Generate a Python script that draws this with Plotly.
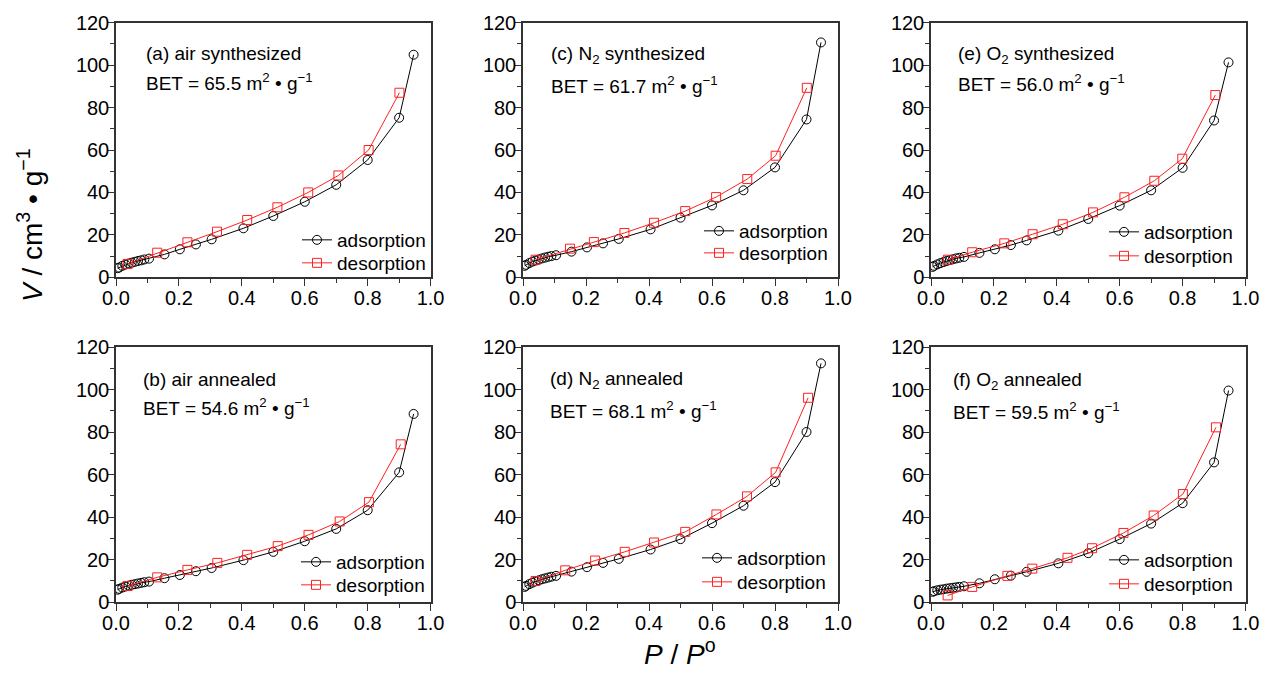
import plotly.graph_objects as go

# Relative pressure points (adsorption branch) and measured uptake for each sample
p_ads = [0.005, 0.01, 0.02, 0.03, 0.04, 0.05, 0.06, 0.07, 0.08, 0.09, 0.105,
         0.154, 0.203, 0.254, 0.304, 0.405, 0.50, 0.60, 0.70, 0.80, 0.90, 0.946]

v_ads_a = [4.3, 4.6, 5.4, 6.0, 6.5, 6.9, 7.3, 7.7, 8.0, 8.4, 8.8,
           10.8, 13.2, 15.5, 17.9, 23.1, 28.9, 35.6, 43.6, 55.3, 75.2, 104.9]
v_ads_b = [5.8, 6.2, 6.8, 7.3, 7.7, 8.1, 8.4, 8.7, 9.0, 9.3, 9.6,
           11.2, 12.7, 14.5, 16.0, 19.7, 23.6, 28.6, 34.4, 43.2, 61.0, 88.5]
v_ads_c = [5.4, 5.9, 6.7, 7.4, 7.9, 8.4, 8.9, 9.3, 9.7, 10.0, 10.4,
           12.1, 14.1, 16.0, 18.1, 22.6, 28.1, 33.9, 41.0, 51.8, 74.4, 110.7]
v_ads_d = [7.1, 7.6, 8.4, 9.1, 9.7, 10.2, 10.7, 11.1, 11.5, 11.9, 12.3,
           14.3, 16.4, 18.4, 20.3, 24.7, 29.6, 37.1, 45.3, 56.4, 80.0, 112.3]
v_ads_e = [4.9, 5.4, 6.1, 6.7, 7.2, 7.7, 8.1, 8.5, 8.9, 9.2, 9.6,
           11.5, 13.2, 15.2, 17.4, 22.0, 27.5, 33.8, 41.0, 51.6, 73.9, 101.3]
v_ads_f = [4.8, 5.1, 5.5, 5.8, 6.0, 6.3, 6.5, 6.7, 6.9, 7.1, 7.4,
           8.8, 10.7, 12.4, 14.2, 18.2, 23.0, 29.6, 36.9, 46.5, 65.7, 99.5]

# Desorption branch (relative pressure, uptake) for each sample
p_des_a = [0.901, 0.803, 0.707, 0.611, 0.513, 0.417, 0.321, 0.227, 0.131, 0.037]
v_des_a = [87.0, 60.0, 48.0, 40.0, 33.0, 27.0, 21.5, 16.5, 11.6, 6.3]
p_des_b = [0.905, 0.804, 0.711, 0.612, 0.514, 0.417, 0.322, 0.227, 0.131, 0.037]
v_des_b = [74.2, 47.0, 37.9, 31.6, 26.3, 22.2, 18.4, 15.1, 11.6, 7.5]
p_des_c = [0.901, 0.802, 0.712, 0.613, 0.515, 0.416, 0.322, 0.225, 0.149, 0.040]
v_des_c = [89.3, 57.3, 46.3, 37.8, 31.2, 25.7, 20.9, 16.6, 13.5, 8.3]
p_des_d = [0.905, 0.802, 0.711, 0.614, 0.515, 0.416, 0.323, 0.229, 0.134, 0.040]
v_des_d = [96.1, 61.0, 49.7, 41.2, 33.0, 28.0, 23.6, 19.5, 14.9, 9.9]
p_des_e = [0.904, 0.799, 0.710, 0.615, 0.515, 0.419, 0.323, 0.233, 0.131, 0.054]
v_des_e = [85.9, 55.9, 45.5, 37.7, 30.6, 25.0, 20.3, 16.0, 11.8, 8.3]
p_des_f = [0.906, 0.801, 0.708, 0.612, 0.512, 0.434, 0.322, 0.243, 0.131, 0.053]
v_des_f = [82.2, 50.8, 40.7, 32.5, 25.3, 20.8, 15.7, 12.3, 7.1, 3.1]

panel_titles = ["(a) air synthesized", "(b) air annealed",
                "(c) N<sub>2</sub> synthesized", "(d) N<sub>2</sub> annealed",
                "(e) O<sub>2</sub> synthesized", "(f) O<sub>2</sub> annealed"]
bet_values = ["65.5", "54.6", "61.7", "68.1", "56.0", "59.5"]
series_names = ["adsorption", "desorption"]

x_ticks = [0.0, 0.2, 0.4, 0.6, 0.8, 1.0]
y_ticks = [0, 20, 40, 60, 80, 100, 120]

ads_series = [v_ads_a, v_ads_b, v_ads_c, v_ads_d, v_ads_e, v_ads_f]
des_series = [(p_des_a, v_des_a), (p_des_b, v_des_b), (p_des_c, v_des_c),
              (p_des_d, v_des_d), (p_des_e, v_des_e), (p_des_f, v_des_f)]

FONT = "Arial, Liberation Sans, sans-serif"
W, H = 1263, 684
AXIS_COLOR = "#333333"
RED = "#ff2020"

# panel boxes in pixels: (left, right) columns and (top, bottom) rows
cols = [(116, 430.6), (523, 838), (931, 1245.5)]
rows = [(22.7, 277.3), (347, 602)]
# legend anchor (left, top of first row, top of second row) in pixels, per panel
legend_px = [(297, 221, 244), (296, 543, 566), (699, 212, 234),
             (697, 539, 563), (1104, 213, 237), (1104, 541, 565)]
# panel label placement in data units: x, title y, BET y
label_pos = [(0.088, 105.5, 92.2), (0.080, 104.5, 91.9), (0.084, 104.6, 90.6),
             (0.080, 104.5, 90.4), (0.080, 104.8, 91.4), (0.064, 104.2, 89.8)]

fig = go.Figure()
layout = dict(
    width=W, height=H,
    margin=dict(l=0, r=0, t=0, b=0, pad=0, autoexpand=False),
    paper_bgcolor="white", plot_bgcolor="white",
    font=dict(family=FONT, size=19, color="black"),
    showlegend=True,
    annotations=[],
)

for i in range(6):
    c, r = i // 2, i % 2
    n = "" if i == 0 else str(i + 1)
    xa, ya = "x" + n, "y" + n
    (x0, x1), (y0, y1) = cols[c], rows[r]
    axis_common = dict(
        showline=True, mirror=True, linecolor=AXIS_COLOR, linewidth=1.5,
        ticks="outside", ticklen=7, tickwidth=1.3, tickcolor=AXIS_COLOR,
        showgrid=False, zeroline=False, automargin=False,
        tickfont=dict(family=FONT, size=20, color="black"),
    )
    layout["xaxis" + n] = dict(
        axis_common, domain=[x0 / W, x1 / W], range=[0, 1],
        tickvals=x_ticks, ticktext=[f"{v:.1f}" for v in x_ticks],
        ticklabelstandoff=-5,
        minor=dict(ticks="outside", ticklen=4, tickwidth=1.2, tickcolor=AXIS_COLOR,
                   dtick=0.1, tick0=0, showgrid=False),
        anchor=ya,
    )
    layout["yaxis" + n] = dict(
        axis_common, domain=[1 - y1 / H, 1 - y0 / H], range=[0, 120],
        tickvals=y_ticks, ticklabelstandoff=-6,
        minor=dict(ticks="outside", ticklen=4, tickwidth=1.2, tickcolor=AXIS_COLOR,
                   dtick=10, tick0=0, showgrid=False),
        anchor=xa,
    )

    # one legend box per entry so each row sits where it should
    lx, ly1, ly2 = legend_px[i]
    leg_ids = []
    for k, ly in enumerate((ly1, ly2)):
        idx = 2 * i + k
        lid = "legend" if idx == 0 else "legend" + str(idx + 1)
        leg_ids.append(lid)
        layout[lid] = dict(
            x=lx / W, y=1 - ly / H, xanchor="left", yanchor="top",
            bgcolor="rgba(0,0,0,0)", borderwidth=0,
            font=dict(family=FONT, size=19, color="black"),
            itemwidth=30,
        )

    fig.add_trace(go.Scatter(
        x=p_ads, y=ads_series[i], xaxis=xa, yaxis=ya, mode="lines+markers",
        name=series_names[0], legend=leg_ids[0],
        line=dict(color="black", width=1),
        marker=dict(symbol="circle-open", size=9, color="black", line=dict(width=1)),
    ))
    pd_, vd_ = des_series[i]
    fig.add_trace(go.Scatter(
        x=pd_, y=vd_, xaxis=xa, yaxis=ya, mode="lines+markers",
        name=series_names[1], legend=leg_ids[1],
        line=dict(color=RED, width=1),
        marker=dict(symbol="square-open", size=9, color=RED, line=dict(width=1)),
    ))

    lxv, ty, by = label_pos[i]
    layout["annotations"].append(dict(
        x=lxv, y=ty, xref=xa, yref=ya, text=panel_titles[i],
        showarrow=False, xanchor="left", yanchor="middle",
        font=dict(family=FONT, size=19, color="black"),
    ))
    layout["annotations"].append(dict(
        x=lxv, y=by, xref=xa, yref=ya,
        text=f"BET = {bet_values[i]} m<sup>2</sup> \u2022 g<sup>\u22121</sup>",
        showarrow=False, xanchor="left", yanchor="middle",
        font=dict(family=FONT, size=19, color="black"),
    ))

# shared axis titles
layout["annotations"].append(dict(
    x=30 / W, y=1 - 225 / H, xref="paper", yref="paper",
    text="<i>V</i> / cm<sup>3</sup> \u2022 g<sup>\u22121</sup>",
    textangle=-90, showarrow=False, xanchor="center", yanchor="middle",
    font=dict(family=FONT, size=28, color="black"),
))
layout["annotations"].append(dict(
    x=680 / W, y=1 - 652 / H, xref="paper", yref="paper",
    text="<i>P</i> / <i>P</i><sup>o</sup>",
    showarrow=False, xanchor="center", yanchor="middle",
    font=dict(family=FONT, size=28, color="black"),
))

fig.update_layout(**layout)
fig.write_html("out.html")
